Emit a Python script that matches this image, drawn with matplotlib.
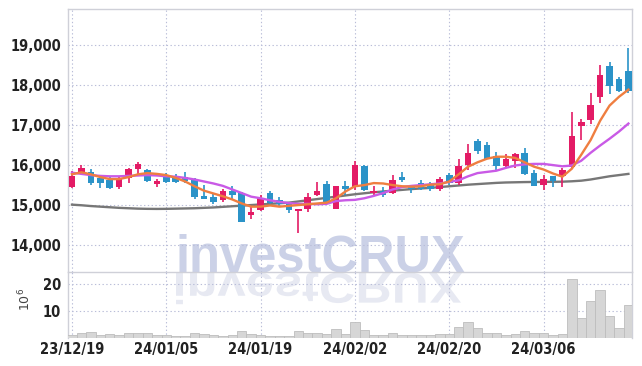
import matplotlib
matplotlib.use("Agg")
import matplotlib.pyplot as plt
from matplotlib.textpath import TextPath
from matplotlib.patches import PathPatch
from matplotlib.font_manager import FontProperties
from matplotlib.transforms import Affine2D, IdentityTransform
import numpy as np

dates = ["23/12/19", "24/01/05", "24/01/19", "24/02/02", "24/02/20", "24/03/06"]
date_idx = [0, 10, 20, 30, 40, 50]

opens = [15440, 15810, 15810, 15660, 15620, 15440, 15660, 15890, 15860, 15520,
         15710, 15710, 15700, 15610, 15210, 15200, 15110, 15340, 15290, 14750,
         14860, 15290, 15110, 15040, 14840, 14880, 15240, 15510, 14900, 15460,
         15430, 15980, 15300, 15330, 15290, 15700, 15460, 15550, 15480, 15380,
         15730, 15530, 16000, 16600, 16500, 16230, 15970, 16090, 16300, 15790,
         15490, 15710, 15710, 15940, 16960, 17120, 17690, 18480, 18150, 18350]
highs = [15830, 15990, 15890, 15670, 15690, 15700, 15930, 16060, 15890, 15630,
         15790, 15760, 15810, 15670, 15500, 15260, 15380, 15460, 15320, 14930,
         15230, 15330, 15180, 15070, 14900, 15290, 15570, 15580, 15460, 15590,
         16090, 15990, 15460, 15430, 15730, 15820, 15470, 15620, 15570, 15700,
         15780, 16150, 16510, 16650, 16560, 16310, 16260, 16300, 16420, 15860,
         15730, 15720, 15910, 17310, 17150, 17800, 18500, 18560, 18200, 18930]
lows = [15420, 15760, 15490, 15420, 15380, 15390, 15530, 15760, 15560, 15440,
        15530, 15540, 15530, 15150, 15140, 15010, 15060, 15110, 14560, 14650,
        14840, 15010, 14960, 14800, 14300, 14810, 15210, 15020, 14890, 15240,
        15360, 15340, 15240, 15200, 15270, 15570, 15290, 15360, 15330, 15340,
        15480, 15480, 15860, 16270, 16140, 15860, 15920, 15930, 15750, 15460,
        15360, 15440, 15440, 15930, 16620, 17020, 17540, 17770, 17820, 17800]
closes = [15710, 15925, 15540, 15530, 15420, 15640, 15900, 16020, 15590, 15580,
          15560, 15570, 15590, 15190, 15150, 15070, 15330, 15230, 14570, 14820,
          15160, 15040, 15010, 14860, 14890, 15180, 15330, 15040, 15460, 15390,
          16000, 15360, 15330, 15240, 15620, 15610, 15380, 15390, 15380, 15650,
          15540, 15980, 16300, 16340, 16150, 15960, 16150, 16260, 15760, 15470,
          15650, 15590, 15880, 16730, 17060, 17500, 18250, 17980, 17850, 17840]
volumes = [1.1, 1.9, 2.3, 1.1, 1.5, 1.1, 1.9, 1.9, 1.9, 1.1,
           1.1, 0.9, 0.8, 1.9, 1.5, 1.1, 0.8, 1.1, 2.7, 1.5,
           1.1, 0.8, 0.8, 0.8, 2.7, 1.9, 1.9, 1.5, 3.3, 1.5,
           5.9, 3.0, 1.1, 1.1, 1.9, 1.1, 1.1, 1.1, 1.1, 1.5,
           1.5, 4.1, 5.9, 3.8, 1.9, 1.9, 1.1, 1.5, 2.6, 1.9,
           1.7, 1.1, 1.5, 22.1, 7.6, 13.9, 17.9, 8.3, 3.7, 12.4]
ma_short = [15760, 15810, 15760, 15690, 15640, 15640, 15690, 15760, 15790, 15770,
            15740, 15670, 15580, 15460, 15350, 15280, 15210, 15130, 15030, 14950,
            14950, 14980, 14950, 14970, 14990, 15010, 15030, 15050, 15160, 15330,
            15460, 15490, 15540, 15530, 15490, 15460, 15450, 15460, 15500, 15510,
            15580, 15760, 15950, 16060, 16150, 16200, 16200, 16170, 16060, 15950,
            15880, 15780, 15700, 15900, 16250, 16620, 17100, 17480, 17700, 17880]
ma_mid = [15800, 15770, 15740, 15720, 15710, 15710, 15720, 15730, 15740, 15730,
          15710, 15700, 15670, 15630, 15580, 15530, 15470, 15380, 15290, 15200,
          15160, 15110, 15070, 15040, 15020, 15020, 15010, 15020, 15090, 15110,
          15120, 15160, 15220, 15290, 15380, 15440, 15470, 15490, 15510, 15530,
          15570, 15610, 15710, 15790, 15820, 15850, 15920, 15980, 16010, 16020,
          16020, 15990, 15960, 15980, 16100, 16300, 16480, 16650, 16830, 17030]
ma_long = [15000, 14985, 14965, 14950, 14935, 14920, 14910, 14900, 14895, 14893,
           14895, 14900, 14905, 14910, 14920, 14930, 14945, 14960, 14975, 14990,
           15005, 15020, 15035, 15050, 15080, 15110, 15140, 15170, 15200, 15230,
           15260, 15285, 15310, 15330, 15350, 15370, 15390, 15405, 15420, 15440,
           15460, 15480, 15500, 15515, 15530, 15545, 15555, 15560, 15565, 15568,
           15570, 15572, 15575, 15585, 15600, 15630, 15670, 15710, 15740, 15770]

UP = "#e31b65"
DOWN = "#2b93c8"
GRID = "#b9bdd8"
FRAME = "#cfd0d8"
TXT = "#222222"

tick_kw = dict(family=["DejaVu Sans"], fontstretch="condensed", fontweight="bold",
               fontsize=10.5, color=TXT)

W, H = 642, 366
fig = plt.figure(figsize=(W / 100, H / 100), dpi=100)
fig.patch.set_facecolor("white")

ax = fig.add_axes([68 / W, (H - 272) / H, (632 - 68) / W, (272 - 9) / H])
axv = fig.add_axes([68 / W, (H - 338) / H, (632 - 68) / W, (338 - 272) / H], sharex=ax)
for a in (ax, axv):
    a.set_facecolor("none")
    for s in a.spines.values():
        s.set_color(FRAME)
        s.set_linewidth(1.0)
    a.grid(True, color=GRID, linestyle=(0, (1.2, 2.2)), linewidth=0.8)
    a.set_axisbelow(True)
    a.tick_params(length=0, colors=TXT)
axv.spines["top"].set_visible(False)
axv.spines["bottom"].set_visible(False)

x = np.arange(len(opens))
for i in x:
    o, h, l, c = opens[i], highs[i], lows[i], closes[i]
    col = UP if c >= o else DOWN
    ax.vlines(i, l, h, color=col, linewidth=1.2, zorder=3)
    lo, hi = min(o, c), max(o, c)
    ax.bar(i, max(hi - lo, 15), bottom=lo, width=0.7, color=col, zorder=4, linewidth=0)

ax.plot(x, ma_long, color="#777777", linewidth=1.7, zorder=2)
ax.plot(x, ma_mid, color="#c95ae6", linewidth=1.7, zorder=5)
ax.plot(x, ma_short, color="#ef7e40", linewidth=1.7, zorder=6)

ax.set_xlim(-0.42, 59.38)
ax.set_ylim(13314, 19898)
yt = [14000, 15000, 16000, 17000, 18000, 19000]
ax.set_yticks(yt)
ax.set_yticklabels([f"{v:,}" for v in yt], **tick_kw)
ax.set_xticks(date_idx)
plt.setp(ax.get_xticklabels(), visible=False)

axv.bar(x, volumes, width=1.0, color="#d6d6d6", edgecolor="#bdbdbd", linewidth=0.6, zorder=3)
axv.set_ylim(0, 24.6)
axv.set_yticks([10, 20])
axv.set_yticklabels(["10", "20"], **tick_kw)
axv.set_xticks(date_idx)
axv.set_xticklabels(dates, **tick_kw)
axv.tick_params(axis="x", pad=3)
axv.tick_params(axis="y", pad=5)
ax.tick_params(axis="y", pad=5)
axv.set_ylabel(r"$10^6$", color="#444444", fontsize=9)
axv.yaxis.set_label_coords(-0.062, 0.58)

# watermark (text) with its mirrored reflection
wm_font = FontProperties(family=["Liberation Sans", "DejaVu Sans"], weight="bold")
tp = TextPath((0, 0), "investCRUX", size=50, prop=wm_font)
ext = tp.get_extents()
sx = (462 - 176) / ext.width
base_y = H - 271
fig.text(176 / W, base_y / H, "investCRUX", fontproperties=wm_font, fontsize=sx * 50 * 0.72,
         color="#cbd1e7", ha="left", va="baseline", zorder=-1)
tr_ref = Affine2D().translate(-ext.x0, 0).scale(sx, -sx * 0.85).translate(176, base_y - 2)
p2 = PathPatch(tr_ref.transform_path(tp), facecolor="#e7e9f2", edgecolor="none",
               transform=IdentityTransform(), zorder=-1)
fig.add_artist(p2)

fig.savefig("out.png", dpi=100, facecolor="white")
